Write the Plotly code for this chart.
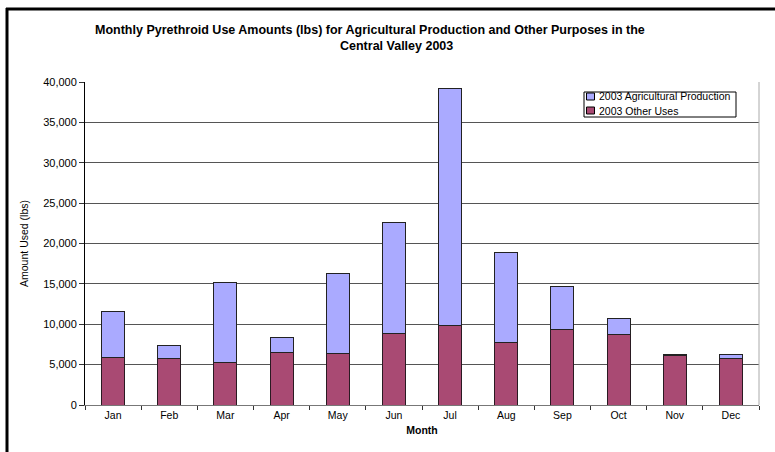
import plotly.graph_objects as go

months = ["Jan", "Feb", "Mar", "Apr", "May", "Jun", "Jul", "Aug", "Sep", "Oct", "Nov", "Dec"]
other_uses = [5900, 5780, 5240, 6520, 6400, 8830, 9870, 7760, 9370, 8700, 6150, 5780]
ag_production = [5650, 1650, 9990, 1810, 9900, 13830, 29330, 11140, 5330, 2040, 120, 500]
y_ticks = [0, 5000, 10000, 15000, 20000, 25000, 30000, 35000, 40000]
series_names = ["2003 Agricultural Production", "2003 Other Uses"]
series_colors = ["#AAAAFF", "#A94A73"]

FONT = "Liberation Sans, Arial, sans-serif"

fig = go.Figure()
fig.add_trace(go.Bar(
    x=months, y=other_uses, name=series_names[1],
    marker=dict(color=series_colors[1], line=dict(color="#2a1a22", width=1)),
    width=0.41,
))
fig.add_trace(go.Bar(
    x=months, y=ag_production, name=series_names[0],
    marker=dict(color=series_colors[0], line=dict(color="#222222", width=1)),
    width=0.41,
))

L, R, T, B = 85, 16, 82, 47
W, H = 775, 452
pw = W - L - R
ph = H - T - B

def px_x(p):
    return (p - L) / pw

def px_y(p):
    return (H - B - p) / ph

shapes = [
    dict(type="line", xref="paper", yref="paper",
         x0=1, x1=1, y0=0, y1=1, line=dict(color="#aaa", width=1)),
    # outer frame (left and top edges; right/bottom fall outside the picture)
    dict(type="line", xref="paper", yref="paper",
         x0=px_x(7), x1=px_x(7), y0=px_y(8), y1=px_y(460),
         line=dict(color="#000", width=3)),
    dict(type="line", xref="paper", yref="paper",
         x0=px_x(6), x1=px_x(776), y0=px_y(9), y1=px_y(9),
         line=dict(color="#000", width=3)),
    # legend box
    dict(type="rect", xref="paper", yref="paper",
         x0=px_x(584), x1=px_x(736), y0=px_y(92), y1=px_y(117),
         fillcolor="white", line=dict(color="#000", width=1), layer="above"),
]
annotations = [
    dict(text="<b>Monthly Pyrethroid Use Amounts (lbs) for Agricultural Production and Other Purposes in the</b>",
         xref="paper", yref="paper", x=px_x(370), y=px_y(30),
         xanchor="center", yanchor="middle", showarrow=False,
         font=dict(size=12.5, family=FONT)),
    dict(text="<b>Central Valley 2003</b>",
         xref="paper", yref="paper", x=px_x(396), y=px_y(46),
         xanchor="center", yanchor="middle", showarrow=False,
         font=dict(size=12.5, family=FONT)),
]
leg_rows = [96.5, 110.5]
for name, color, yc in zip(series_names, series_colors, leg_rows):
    shapes.append(dict(type="rect", xref="paper", yref="paper",
                       x0=px_x(586.5), x1=px_x(594.5), y0=px_y(yc - 3.5), y1=px_y(yc + 3.5),
                       fillcolor=color, line=dict(color="#000", width=1), layer="above"))
    annotations.append(dict(text=name, xref="paper", yref="paper",
                            x=px_x(597), y=px_y(yc), xanchor="left", yanchor="middle",
                            showarrow=False, font=dict(size=10.5, family=FONT)))

fig.update_layout(
    width=W, height=H,
    margin=dict(l=L, r=R, t=T, b=B),
    barmode="stack",
    paper_bgcolor="white",
    plot_bgcolor="white",
    font=dict(family=FONT, size=10, color="#000"),
    showlegend=False,
    xaxis=dict(
        title=dict(text="<b>Month</b>", font=dict(size=10.5, family=FONT), standoff=7),
        showline=True, linecolor="#777", linewidth=1,
        ticks="outside", tickson="boundaries", ticklen=4, tickcolor="#333",
        showgrid=False,
        tickfont=dict(size=10.5, family=FONT),
    ),
    yaxis=dict(
        title=dict(text="Amount Used (lbs)", font=dict(size=10.5, family=FONT), standoff=12),
        range=[0, 40000],
        tickvals=y_ticks,
        tickformat=",d",
        showline=True, linecolor="#000", linewidth=1,
        ticks="outside", ticklen=5, tickcolor="#333",
        showgrid=True, gridcolor="#555", gridwidth=1,
        zeroline=False,
        tickfont=dict(size=11, family=FONT),
    ),
    shapes=shapes,
    annotations=annotations,
)

fig.write_html(
    "out.html",
    config={"displayModeBar": False},
    post_script="document.documentElement.style.overflow='hidden';document.body.style.overflow='hidden';document.body.style.margin='0';",
)
